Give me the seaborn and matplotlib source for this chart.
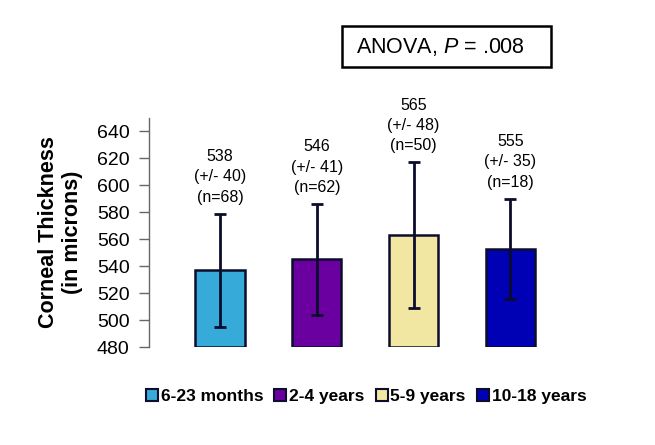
import matplotlib
matplotlib.use("Agg")
import matplotlib.pyplot as plt
import seaborn as sns
import pandas as pd
from matplotlib.patches import Rectangle

# data
groups = ["6-23 months", "2-4 years", "5-9 years", "10-18 years"]
bar_means = [537, 545, 563, 553]      # drawn bar heights (microns)
bar_errs = [42, 41, 54, 37]           # drawn error bar half-lengths
label_means = ["538", "546", "565", "555"]
label_sds = ["40", "41", "48", "35"]
label_ns = [68, 62, 50, 18]
colors = ["#36aad9", "#6a00a0", "#f1e7a2", "#0000b4"]
yticks = [480, 500, 520, 540, 560, 580, 600, 620, 640]

sns.set_theme(style="white")
plt.rcParams["font.family"] = ["Liberation Sans", "DejaVu Sans"]
plt.rcParams["mathtext.fontset"] = "custom"
plt.rcParams["mathtext.rm"] = "Liberation Sans"
plt.rcParams["mathtext.it"] = "Liberation Sans:italic"
plt.rcParams["text.color"] = "black"
plt.rcParams["axes.labelcolor"] = "black"
plt.rcParams["ytick.color"] = "black"

df = pd.DataFrame({"group": groups, "mean": bar_means})

fig = plt.figure(figsize=(6.55, 4.45), dpi=100)
ax = fig.add_axes([0.2275, 0.2202, 0.6257, 0.5146])

edge = "#0c0c2c"
sns.barplot(data=df, x="group", y="mean", hue="group", palette=colors,
            saturation=1, width=0.51, edgecolor=edge, linewidth=1.8,
            legend=True, ax=ax)

# start bars at the axis floor so the bottom edge shows
floor = 480
for cont in ax.containers:
    for p in cont:
        h = p.get_height()
        p.set_y(floor)
        p.set_height(h - floor)

ax.errorbar(range(len(groups)), bar_means, yerr=bar_errs, fmt="none",
            ecolor=edge, elinewidth=2, capsize=4, capthick=2, zorder=5)

for i in range(len(groups)):
    txt = f"{label_means[i]}\n(+/- {label_sds[i]})\n(n={label_ns[i]})"
    ax.annotate(txt, (i, bar_means[i] + bar_errs[i]), xytext=(0, 9),
                textcoords="offset pixels", ha="center", va="bottom",
                fontsize=11.5, linespacing=1.45, annotation_clip=False)

ax.set_ylim(480, 650)
ax.set_xlim(-0.733, 3.5)
ax.set_yticks(yticks)
ax.set_xticks([])
ax.set_xlabel("")
ax.set_ylabel("Corneal Thickness\n(in microns)", fontsize=15.5,
              fontweight="bold", labelpad=10)
ax.tick_params(axis="y", direction="out", length=7, width=1, color="#666666",
               labelcolor="black", labelsize=14, left=True, pad=7)
for s in ["top", "right", "bottom"]:
    ax.spines[s].set_visible(False)
ax.spines["left"].set_color("#666666")
ax.spines["left"].set_linewidth(1)

leg = ax.legend(loc="center", bbox_to_anchor=(0.559, 0.108),
                bbox_transform=fig.transFigure, ncol=4, frameon=False,
                prop={"weight": "bold", "size": 12.5}, handlelength=0.69,
                handleheight=0.69, handletextpad=0.17, columnspacing=0.63,
                borderpad=0)
for h in leg.legend_handles:
    h.set_edgecolor(edge)
    h.set_linewidth(1.5)

# ANOVA box
W, H = 655, 445
fig.patches.append(Rectangle((342 / W, 1 - 67 / H), (551 - 342) / W, (67 - 26) / H,
                             transform=fig.transFigure, fill=False,
                             edgecolor="black", linewidth=1.8))
fig.text(356 / W, 1 - 53 / H, r"ANOVA, $\mathit{P}$ = .008", fontsize=15.5,
         ha="left", va="baseline")

fig.savefig("out.png", dpi=100)
